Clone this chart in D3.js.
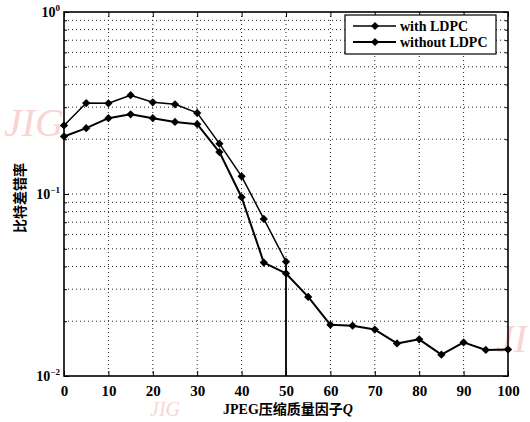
<!DOCTYPE html>
<html>
<head>
<meta charset="utf-8">
<script src="https://cdn.jsdelivr.net/npm/d3@7"></script>
<style>
  body { margin: 0; background: #fff; }
  svg { display: block; }
</style>
</head>
<body>
<div id="chart"></div>
<script>
// chart data
const qValues = [0, 5, 10, 15, 20, 25, 30, 35, 40, 45, 50, 55, 60, 65, 70, 75, 80, 85, 90, 95, 100];
// with LDPC: errors vanish after Q = 50 (drawn as a drop to the axis)
const withLdpc = [0.238, 0.316, 0.315, 0.349, 0.319, 0.311, 0.279, 0.189, 0.125, 0.073, 0.0425,
                  0, 0, 0, 0, 0, 0, 0, 0, 0, 0];
const withoutLdpc = [0.207, 0.230, 0.261, 0.274, 0.261, 0.249, 0.242, 0.170, 0.096, 0.042, 0.0366,
                     0.0272, 0.0191, 0.0189, 0.0180, 0.0151, 0.0159, 0.0131, 0.0153, 0.0139, 0.0140];
const xTicks = [0, 10, 20, 30, 40, 50, 60, 70, 80, 90, 100];
const yMajor = [1, 0.1, 0.01];
const yMajorLabels = ["0", "−1", "−2"];
const seriesNames = ["with LDPC", "without LDPC"];

const width = 530;
const height = 422;
const margin = {left: 64, right: 22, top: 12, bottom: 46};

const svg = d3.select("#chart")
  .append("svg")
  .attr("width", width)
  .attr("height", height);

const xScale = d3.scaleLinear()
  .domain([0, 100])
  .range([margin.left, width - margin.right]);

const yScale = d3.scaleLog()
  .domain([0.01, 1])
  .range([height - margin.bottom, margin.top]);

const x0 = xScale.range()[0], x1 = xScale.range()[1];
const yTop = yScale.range()[1], yBot = yScale.range()[0];

// minor positions 2..9 in each decade
let yMinor = [];
[0.01, 0.1].forEach(dec => {
  for (let k = 2; k <= 9; k++) yMinor.push(dec * k);
});

// watermark
const wm = svg.append("g")
  .attr("fill", "#f4a0a0")
  .attr("opacity", 0.45)
  .attr("font-family", "Liberation Serif")
  .attr("font-style", "italic")
  .attr("font-size", 40);
wm.append("text").attr("x", 4).attr("y", 136).text("JIG");
wm.append("text").attr("x", 150).attr("y", 416).attr("font-size", 20).text("JIG");
wm.append("text").attr("x", 496).attr("y", 352).text("JI");

// grid
const grid = svg.append("g")
  .attr("stroke", "#222")
  .attr("stroke-width", 1)
  .attr("stroke-dasharray", "1,3");

grid.selectAll(".gx")
  .data(xTicks.slice(1, -1))
  .enter()
  .append("line")
    .attr("x1", d => xScale(d)).attr("x2", d => xScale(d))
    .attr("y1", yTop).attr("y2", yBot);

grid.selectAll(".gy")
  .data(yMinor.concat([0.1]))
  .enter()
  .append("line")
    .attr("x1", x0).attr("x2", x1)
    .attr("y1", d => yScale(d)).attr("y2", d => yScale(d));

// axes
svg.append("g")
  .attr("transform", `translate(0,${yBot})`)
  .call(d3.axisBottom(xScale).tickValues(xTicks).tickSize(-5).tickPadding(9).tickFormat(d3.format("d")))
  .call(g => g.select(".domain").remove())
  .attr("font-family", "Liberation Serif")
  .attr("font-size", 15)
  .attr("font-weight", "bold");

svg.append("g")
  .attr("transform", `translate(0,${yTop})`)
  .call(d3.axisTop(xScale).tickValues(xTicks).tickSize(-5).tickFormat(""))
  .call(g => g.select(".domain").remove());

svg.append("g")
  .attr("transform", `translate(${x0},0)`)
  .call(d3.axisLeft(yScale).tickValues(yMinor).tickSize(-3).tickFormat(""))
  .call(g => g.select(".domain").remove());
svg.append("g")
  .attr("transform", `translate(${x0},0)`)
  .call(d3.axisLeft(yScale).tickValues(yMajor).tickSize(-5).tickFormat(""))
  .call(g => g.select(".domain").remove());
svg.append("g")
  .attr("transform", `translate(${x1},0)`)
  .call(d3.axisRight(yScale).tickValues(yMinor).tickSize(-3).tickFormat(""))
  .call(g => g.select(".domain").remove());
svg.append("g")
  .attr("transform", `translate(${x1},0)`)
  .call(d3.axisRight(yScale).tickValues(yMajor).tickSize(-5).tickFormat(""))
  .call(g => g.select(".domain").remove());

// y tick labels 10^n
const ylab = svg.append("g")
  .attr("font-family", "Liberation Serif")
  .attr("font-size", 14)
  .attr("font-weight", "bold")
  .attr("text-anchor", "end");
yMajor.forEach((v, i) => {
  const t = ylab.append("text")
    .attr("x", x0 - 4)
    .attr("y", yScale(v) + 5);
  t.append("tspan").text("10");
  t.append("tspan").attr("dy", -6).attr("font-size", 9).text(yMajorLabels[i]);
});

// frame
svg.append("rect")
  .attr("x", x0).attr("y", yTop)
  .attr("width", x1 - x0).attr("height", yBot - yTop)
  .attr("fill", "none")
  .attr("stroke", "#000")
  .attr("stroke-width", 1.6);

// axis labels
const xl = svg.append("text")
  .attr("x", (x0 + x1) / 2 + 2)
  .attr("y", 414)
  .attr("text-anchor", "middle")
  .attr("font-size", 14)
  .attr("font-weight", "bold");
xl.append("tspan").attr("font-family", "Liberation Serif").text("JPEG");
xl.append("tspan").attr("font-family", "Noto Sans CJK SC").text("压缩质量因子");
xl.append("tspan").attr("font-family", "Liberation Serif").attr("font-style", "italic").text("Q");

svg.append("text")
  .attr("transform", `translate(25,${(yTop + yBot) / 2 + 4}) rotate(-90)`)
  .attr("text-anchor", "middle")
  .attr("font-family", "Noto Sans CJK SC")
  .attr("font-size", 14)
  .attr("font-weight", "bold")
  .text("比特差错率");

// series
const line = d3.line()
  .x(d => xScale(d.q))
  .y(d => yScale(d.v));

const seriesA = qValues.map((q, i) => ({q: q, v: withLdpc[i]})).filter(d => d.v > 0);
const seriesB = qValues.map((q, i) => ({q: q, v: withoutLdpc[i]}));
// square turned 45 degrees: an even diamond like the original markers
const marker = d3.symbol().type(d3.symbolSquare).size(34);

const plot = svg.append("g");

function drawSeries(data, sw) {
  plot.append("path")
    .datum(data)
    .attr("fill", "none")
    .attr("stroke", "#000")
    .attr("stroke-width", sw)
    .attr("stroke-linejoin", "round")
    .attr("d", line);
  plot.selectAll(null)
    .data(data)
    .enter()
    .append("path")
      .attr("transform", d => `translate(${xScale(d.q)},${yScale(d.v)}) rotate(45)`)
      .attr("d", marker)
      .attr("fill", "#000");
}

drawSeries(seriesA, 1.5);
drawSeries(seriesB, 2);

// drop of the with-LDPC curve to zero
const lastA = seriesA[seriesA.length - 1];
plot.append("line")
  .attr("x1", xScale(lastA.q)).attr("x2", xScale(lastA.q))
  .attr("y1", yScale(lastA.v)).attr("y2", yBot)
  .attr("stroke", "#000")
  .attr("stroke-width", 1.8);

// legend
const lg = svg.append("g");
lg.append("rect")
  .attr("x", 345).attr("y", 15)
  .attr("width", 151).attr("height", 39)
  .attr("fill", "#fff")
  .attr("stroke", "#000")
  .attr("stroke-width", 1.2);
seriesNames.forEach((name, i) => {
  const y = 26 + i * 16;
  lg.append("line")
    .attr("x1", 353).attr("x2", 396)
    .attr("y1", y).attr("y2", y)
    .attr("stroke", "#000")
    .attr("stroke-width", i === 0 ? 1.5 : 2);
  lg.append("path")
    .attr("transform", `translate(375,${y}) rotate(45)`)
    .attr("d", marker)
    .attr("fill", "#000");
  lg.append("text")
    .attr("x", 400).attr("y", y + 5)
    .attr("font-family", "Liberation Serif")
    .attr("font-size", 14)
    .attr("font-weight", "bold")
    .text(name);
});
</script>
</body>
</html>
